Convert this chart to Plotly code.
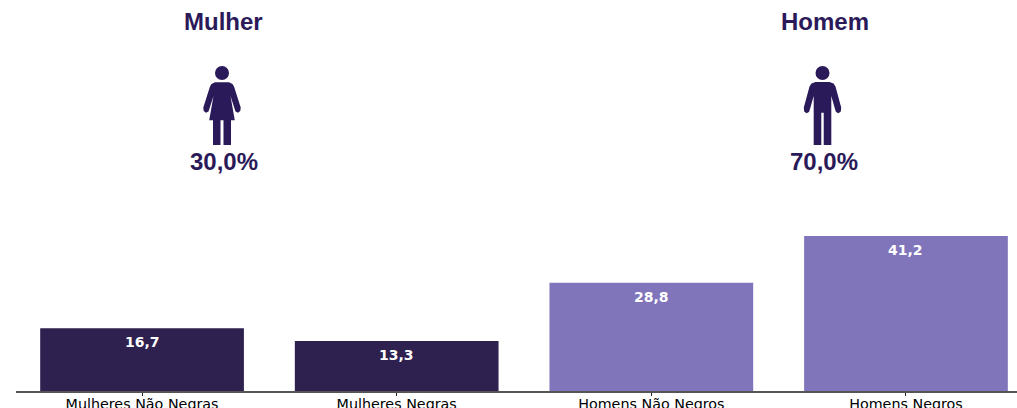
import plotly.graph_objects as go

categories = ["Mulheres Não Negras", "Mulheres Negras", "Homens Não Negros", "Homens Negros"]
values = [16.7, 13.3, 28.8, 41.2]
value_labels = ["16,7", "13,3", "28,8", "41,2"]
bar_colors = ["#2E214F", "#2E214F", "#8074BA", "#8074BA"]
groups = ["Mulher", "Homem"]
group_shares = ["30,0%", "70,0%"]
INK = "#2B1A59"

W, H = 1017, 408
L, B = 16, 17
PW, PH = W - L, H - B


def px(x):
    return (x - L) / PW


def py(y):
    return 1 - y / PH


fig = go.Figure(go.Bar(
    x=categories, y=values, width=0.8,
    marker=dict(color=bar_colors, line_width=0),
    cliponaxis=False, hoverinfo="skip",
))

for cat, val, lab in zip(categories, values, value_labels):
    fig.add_annotation(x=cat, y=val, yshift=-14, text=f"<b>{lab}</b>", showarrow=False,
                       xanchor="center", yanchor="middle",
                       font=dict(family="DejaVu Sans", size=14, color="white"))


def icon_path(cx, woman):
    """Pictogram outline, offsets in screen pixels from the icon's centre line."""
    if woman:
        right = [(7, 82.3), (10.5, 84), (12, 86.5), (18.7, 107.5), (18.3, 111), (16, 112.8), (13.5, 111.5),
                 (12.5, 108.5), (8.5, 96), (12.8, 120.3), (9, 120.3), (9, 145), (1.5, 145), (1.5, 120.3)]
    else:
        right = [(7, 82), (11, 83.5), (13, 86.5), (18.7, 107.5), (18.3, 111.5), (16, 113.3), (13.5, 112),
                 (12.5, 109), (8.8, 96), (8.8, 145), (1.2, 145), (1.2, 112.7)]
    pts = right + [(-a, b) for a, b in reversed(right)]
    return "M " + " L ".join(f"{px(cx + a):.5f},{py(b):.5f}" for a, b in pts) + " Z"


for i, (cx, woman) in enumerate([(222, True), (822.5, False)]):
    fig.add_shape(type="path", xref="paper", yref="paper", path=icon_path(cx, woman),
                  fillcolor=INK, line_width=0, layer="above")
    fig.add_shape(type="circle", xref="paper", yref="paper",
                  x0=px(cx - 7), x1=px(cx + 7), y0=py(80), y1=py(66),
                  fillcolor=INK, line_width=0, layer="above")
    tx = [223, 825][i]
    fig.add_annotation(text=f"<b>{groups[i]}</b>", xref="paper", yref="paper",
                       x=px(tx), y=py(22), xanchor="center", yanchor="middle", showarrow=False,
                       font=dict(family="Liberation Sans", size=24, color=INK))
    fig.add_annotation(text=f"<b>{group_shares[i]}</b>", xref="paper", yref="paper",
                       x=px(cx + 1.5), y=py(161), xanchor="center", yanchor="middle", showarrow=False,
                       font=dict(family="Liberation Sans", size=24, color=INK))

fig.update_layout(
    width=W, height=H,
    margin=dict(l=L, r=0, t=0, b=B, pad=0),
    paper_bgcolor="white", plot_bgcolor="white", showlegend=False,
    xaxis=dict(range=[-0.495, 3.436], showgrid=False, showline=True, linecolor="#555555", linewidth=1.5,
               ticks="outside", ticklen=3, tickcolor="#222222", tickwidth=1, automargin=False,
               ticklabelstandoff=-4,
               tickfont=dict(family="DejaVu Sans", size=14.3, color="black")),
    yaxis=dict(range=[0, 104], visible=False, automargin=False),
)

fig.write_html("out.html", config=dict(displayModeBar=False),
               post_script="document.body.style.margin='0';")
